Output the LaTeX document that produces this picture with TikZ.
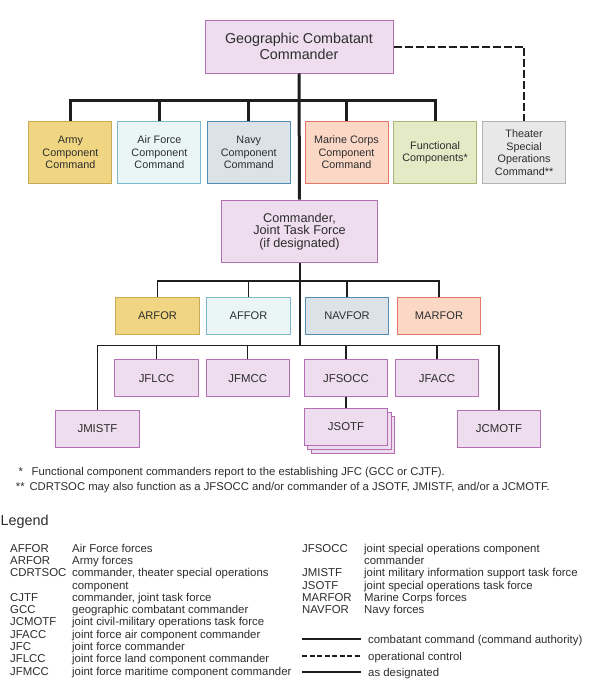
\documentclass[tikz,border=0pt]{standalone}
\usepackage{fontspec}
\setmainfont{Liberation Sans}
\definecolor{pfill}{RGB}{237,221,238}
\definecolor{pdraw}{RGB}{178,112,178}
\definecolor{afill}{RGB}{240,214,130}
\definecolor{adraw}{RGB}{200,170,85}
\definecolor{ffill}{RGB}{234,246,246}
\definecolor{fdraw}{RGB}{125,185,205}
\definecolor{nfill}{RGB}{219,226,232}
\definecolor{ndraw}{RGB}{80,140,180}
\definecolor{mfill}{RGB}{251,215,198}
\definecolor{mdraw}{RGB}{225,120,105}
\definecolor{fcfill}{RGB}{229,234,198}
\definecolor{fcdraw}{RGB}{170,180,115}
\definecolor{tfill}{RGB}{232,232,232}
\definecolor{tdraw}{RGB}{178,178,178}
\definecolor{txt}{RGB}{45,45,45}
\definecolor{ln}{RGB}{30,30,30}
\begin{document}
\begin{tikzpicture}[x=1pt,y=-1pt,
  box/.style={draw, line width=1pt, rectangle, inner sep=0pt, align=center, text=txt},
  purp/.style={box, fill=pfill, draw=pdraw},
  comp/.style={box, minimum width=83pt, minimum height=61.5pt, font=\fontsize{10.8}{12.5}\selectfont},
  serv/.style={box, minimum width=83.5pt, minimum height=37.7pt, font=\fontsize{11.1}{13}\selectfont},
  low/.style={purp, minimum width=83.5pt, minimum height=36.7pt, font=\fontsize{11.4}{13}\selectfont},
  cmd/.style={line width=3pt, draw=ln},
  opc/.style={line width=2pt, draw=ln, dash pattern=on 8pt off 3pt},
  thinln/.style={line width=1.2pt, draw=ln},
  desig/.style={line width=2pt, draw=ln},
  lg/.style={anchor=base west, inner sep=0pt, text=txt, font=\fontsize{11.4}{12.3}\selectfont}
]
\useasboundingbox (0,0) rectangle (600,696);
\fill[white] (0,0) rectangle (600,696);

% top
\node[purp, minimum width=188pt, minimum height=53pt, font=\fontsize{14.3}{16.7}\selectfont] (gcc) at (299,46.5) {Geographic Combatant\\Commander};

\node[comp, fill=afill, draw=adraw] (army) at (70.4,152.5) {Army\\Component\\Command};
\node[comp, fill=ffill, draw=fdraw] (af) at (159.4,152.5) {Air Force\\Component\\Command};
\node[comp, fill=nfill, draw=ndraw] (navy) at (248.8,152.5) {Navy\\Component\\Command};
\node[comp, fill=mfill, draw=mdraw] (marine) at (346.5,152.5) {Marine Corps\\Component\\Command};
\node[comp, fill=fcfill, draw=fcdraw] (func) at (435.1,152.5) {Functional\\Components*};
\node[comp, fill=tfill, draw=tdraw] (tsoc) at (524.1,152.5) {Theater\\Special\\Operations\\Command**};

\node[purp, minimum width=156.5pt, minimum height=62.7pt, font=\fontsize{12.7}{12.4}\selectfont] (jtf) at (299.5,231.4) {Commander,\\Joint Task Force\\(if designated)};

\node[serv, fill=afill, draw=adraw] (arfor) at (157.5,316) {ARFOR};
\node[serv, fill=ffill, draw=fdraw] (affor) at (248.5,316) {AFFOR};
\node[serv, fill=nfill, draw=ndraw] (navfor) at (347,316) {NAVFOR};
\node[serv, fill=mfill, draw=mdraw] (marfor) at (439,316) {MARFOR};

\node[low] (jflcc) at (156.5,378.3) {JFLCC};
\node[low] (jfmcc) at (247.8,378.3) {JFMCC};
\node[low] (jfsocc) at (346,378.3) {JFSOCC};
\node[low] (jfacc) at (437,378.3) {JFACC};

\node[low] (jmistf) at (97.5,429) {JMISTF};
\node[low] (jcmotf) at (499,429) {JCMOTF};
\node[low] (jsotfc) at (353,435) {};
\node[low] (jsotfb) at (349.5,431) {};
\node[low] (jsotf) at (346,427) {JSOTF};

% connectors
\coordinate (b1) at (299,100);
\coordinate (b2) at (299.5,281);
\coordinate (b3) at (299.5,345.3);
\draw[cmd] (gcc.south) -- (jtf.north);
\foreach \n in {army,af,navy,marine,func} \draw[cmd] (\n.north) |- (b1);
\draw[opc] (gcc.east) -| (tsoc.north);
\draw[desig] (jtf.south) -- (b3);
\foreach \n in {arfor,affor,navfor,marfor} \draw[thinln] (\n.north) |- (b2);
\foreach \n in {jflcc,jfmcc,jfsocc,jfacc,jmistf,jcmotf} \draw[thinln] (\n.north) |- (b3);
\draw[desig] (jfsocc.south) -- (jsotf.north);

% footnotes
\node[lg, font=\fontsize{11.3}{12}\selectfont] (fs1) at (18.3,475.7) {*};
\node[lg, font=\fontsize{11.3}{12}\selectfont] (fn1) at (31.5,475.7) {Functional component commanders report to the establishing JFC (GCC or CJTF).};
\node[lg, font=\fontsize{11.3}{12}\selectfont] (fs2) at (15.7,490) {**};
\node[lg, font=\fontsize{11.3}{12}\selectfont] (fn2) at (29.3,490) {CDRTSOC may also function as a JFSOCC and/or commander of a JSOTF, JMISTF, and/or a JCMOTF.};

% legend
\node[lg, font=\fontsize{14.4}{16}\selectfont] (legend) at (0.5,525.2) {Legend};
\foreach \a/\d [count=\i] in {AFFOR/Air Force forces, ARFOR/Army forces, CDRTSOC/{commander, theater special operations}, /component, CJTF/{commander, joint task force}, GCC/geographic combatant commander, JCMOTF/joint civil-military operations task force, JFACC/joint force air component commander, JFC/joint force commander, JFLCC/joint force land component commander, JFMCC/joint force maritime component commander}{
  \node[lg] (la\i) at (10,{548+4.1+(\i-1)*12.3}) {\a};
  \node[lg] (ld\i) at (72,{548+4.1+(\i-1)*12.3}) {\d};
}
\foreach \a/\d [count=\i] in {JFSOCC/joint special operations component, /commander, JMISTF/joint military information support task force, JSOTF/joint special operations task force, MARFOR/Marine Corps forces, NAVFOR/Navy forces}{
  \node[lg] (ra\i) at (302,{548+4.1+(\i-1)*12.3}) {\a};
  \node[lg] (rd\i) at (364,{548+4.1+(\i-1)*12.3}) {\d};
}
\coordinate (k1a) at (302,639); \coordinate (k1b) at (361,639);
\coordinate (k2a) at (302,656); \coordinate (k2b) at (361,656);
\coordinate (k3a) at (302,672); \coordinate (k3b) at (361,672);
\draw[cmd, line width=2.7pt] (k1a) -- (k1b);
\draw[line width=1.5pt, draw=ln, dash pattern=on 5pt off 2.5pt] (k2a) -- (k2b);
\draw[desig] (k3a) -- (k3b);
\node[lg] (k1t) at (368,643.1) {combatant command (command authority)};
\node[lg] (k2t) at (368,660.1) {operational control};
\node[lg] (k3t) at (368,676.1) {as designated};
\end{tikzpicture}
\end{document}
